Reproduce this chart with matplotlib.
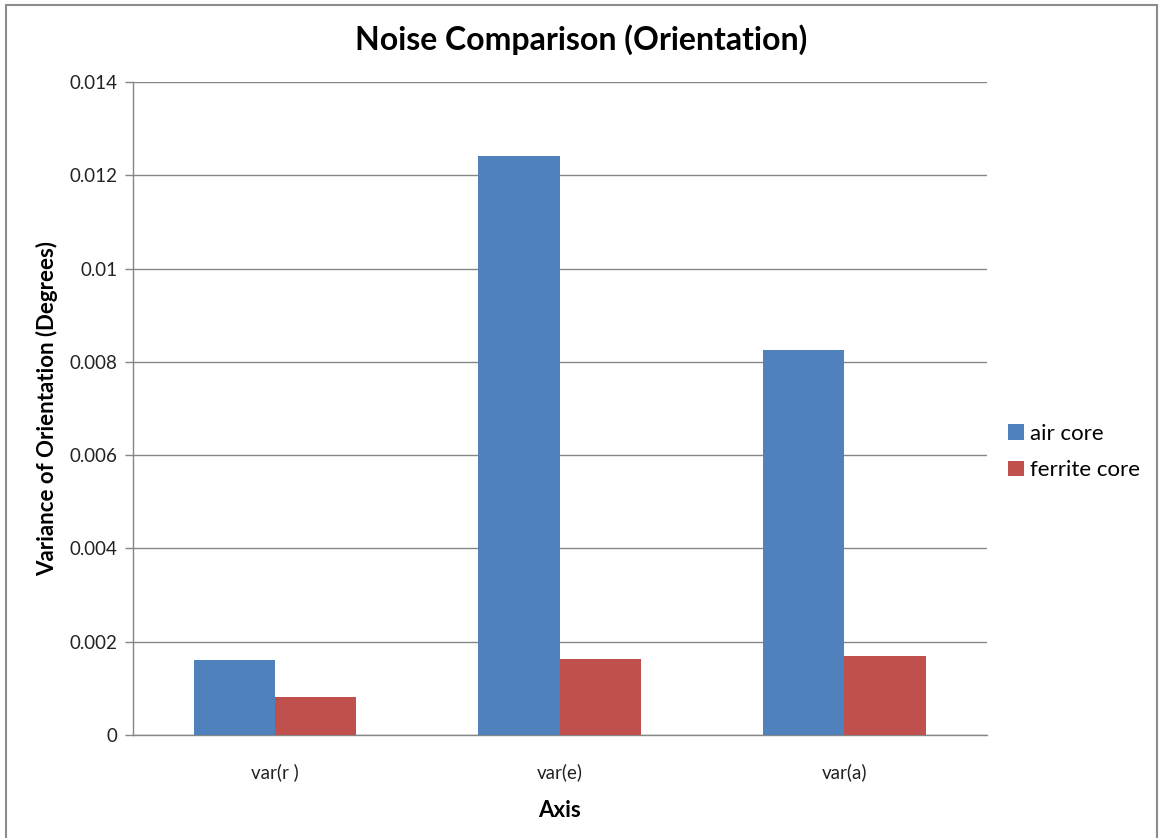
import matplotlib
matplotlib.use("Agg")
import matplotlib.pyplot as plt
from matplotlib.patches import Rectangle
import numpy as np

plt.rcParams['font.family'] = ['Lato', 'DejaVu Sans']

categories = ['var(r )', 'var(e)', 'var(a)']
air_core = [0.0016, 0.01241, 0.00826]
ferrite_core = [0.00082, 0.00163, 0.00169]
series_names = ['air core', 'ferrite core']
ytick_values = [0, 0.002, 0.004, 0.006, 0.008, 0.01, 0.012, 0.014]
ytick_labels = ['0', '0.002', '0.004', '0.006', '0.008', '0.01', '0.012', '0.014']

W, H = 1160, 838
fig = plt.figure(figsize=(W / 100, H / 100), dpi=100)
ax = fig.add_axes([132.7 / W, 1 - 735 / H, (986.7 - 132.7) / W, (735 - 82) / H])

grid_col = '#868686'
x = np.arange(len(categories))
width = 1 / 3.5
ax.bar(x - width / 2, air_core, width, color='#4F81BD', label=series_names[0], zorder=3)
ax.bar(x + width / 2, ferrite_core, width, color='#C0504D', label=series_names[1], zorder=3)

ax.set_xlim(-0.5, len(categories) - 0.5)
ax.set_ylim(0, 0.014)
ax.set_yticks(ytick_values)
ax.set_yticklabels(ytick_labels, fontsize=13.5, color='#222222')
ax.set_xticks(x)
ax.set_xticklabels(categories, fontsize=13.5, color='#222222')
ax.tick_params(axis='x', length=0, pad=20)
ax.tick_params(axis='y', length=6, width=1, color=grid_col, pad=5)
ax.yaxis.grid(True, color=grid_col, linewidth=1)
ax.set_axisbelow(True)
for side in ['top', 'right']:
    ax.spines[side].set_visible(False)
for side in ['left', 'bottom']:
    ax.spines[side].set_color(grid_col)
    ax.spines[side].set_linewidth(1)

ax.set_ylabel('Variance of Orientation (Degrees)', fontsize=16, fontweight='bold', labelpad=8)
ax.set_xlabel('Axis', fontsize=16, fontweight='bold', labelpad=14)
fig.text(581 / W, 1 - 40 / H, 'Noise Comparison (Orientation)', fontsize=23,
         fontweight='bold', ha='center', va='center')

fig.legend(loc='center left', bbox_to_anchor=(1008 / W, 1 - 452 / H), frameon=False,
           fontsize=16, handlelength=0.7, handleheight=0.7, handletextpad=0.3,
           labelspacing=0.75, borderaxespad=0, borderpad=0)

# outer chart border
fig.patches.append(Rectangle((6 / W, -0.01), (1157 - 6) / W, 1 - 5 / H + 0.01,
                             transform=fig.transFigure, fill=False,
                             edgecolor='#8C8C8C', linewidth=1.5))

fig.savefig('out.png', dpi=100, facecolor='white')
